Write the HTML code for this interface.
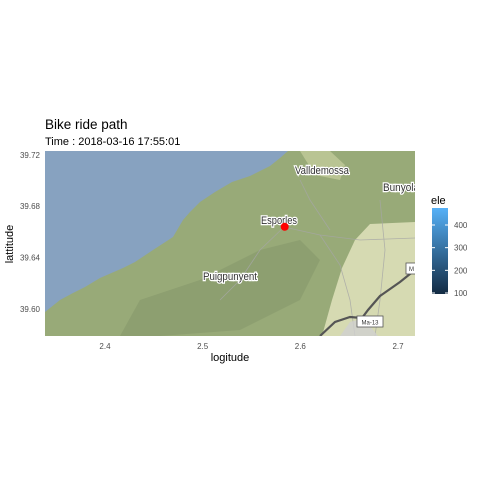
<!DOCTYPE html>
<html><head><meta charset="utf-8"><style>
body{margin:0;background:#fff;font-family:"Liberation Sans",sans-serif;}
svg text{font-family:"Liberation Sans",sans-serif;}
</style></head><body>
<svg width="480" height="480" viewBox="0 0 480 480">
<defs>
<linearGradient id="cb" x1="0" y1="1" x2="0" y2="0">
<stop offset="0" stop-color="#132b43"/><stop offset="1" stop-color="#56b1f7"/>
</linearGradient>
<clipPath id="pc"><rect x="45" y="151" width="370" height="185"/></clipPath>
</defs>
<text x="45" y="129" font-size="13.5" fill="#000">Bike ride path</text>
<text x="45" y="145" font-size="11" fill="#000">Time : 2018-03-16 17:55:01</text>
<g clip-path="url(#pc)">
<rect x="45" y="151" width="370" height="185" fill="#98aa78"/>
<path d="M415,222 L370,224 L355,240 L342,268 L332,300 L322,336 L415,336 Z" fill="#d6dab2"/>
<path d="M300,151 L330,151 L345,165 L340,180 L315,175 Z" fill="#c8cf9e" opacity="0.7"/>
<path d="M140,300 L200,280 L260,250 L300,240 L320,260 L300,300 L240,330 L160,336 L120,336 Z" fill="#86986a" opacity="0.6"/>
<path d="M45,151 L288,151 L280,158 L270,166 L250,176 L232,182 L215,192 L200,202 L190,212 L183,220 L173,237 L153,250 L135,262 L123,268 L100,278 L85,287 L73,293 L60,300 L50,308 L45,312 Z" fill="#87a2c0"/>
<g stroke="#a6a6a6" fill="none" stroke-width="0.8" opacity="0.8">
<path d="M284,227 L320,235 L360,240 L415,238"/>
<path d="M320,235 L340,265 L350,300 L355,336"/>
<path d="M284,227 L260,250 L240,280 L220,300"/>
<path d="M300,180 L310,200 L330,230"/>
<path d="M380,200 L385,250 L380,300 L375,336"/>
</g>
<path d="M320,336 L335,322 L350,317 L362,318 L368,310 L380,296 L400,282 L415,270" stroke="#555" stroke-width="2.2" fill="none"/>
<path d="M340,336 L350,322 L365,318 L370,326 L378,336 Z" fill="#cfcfcf" opacity="0.8"/>
<rect x="357" y="316" width="26" height="11" fill="#fff" stroke="#555" stroke-width="0.8"/>
<text x="370" y="324.5" font-size="6" text-anchor="middle" fill="#333">Ma-13</text>
<rect x="406" y="263" width="12" height="11" fill="#fff" stroke="#555" stroke-width="0.8"/>
<text x="409" y="271" font-size="6" fill="#333">M</text>
<g font-size="11" fill="#333" stroke="#fff" stroke-width="2.5" paint-order="stroke" text-anchor="middle" lengthAdjust="spacingAndGlyphs">
<text x="322" y="174" textLength="54" lengthAdjust="spacingAndGlyphs">Valldemossa</text>
<text x="401" y="191" textLength="36" lengthAdjust="spacingAndGlyphs">Bunyola</text>
<text x="279" y="224" textLength="36" lengthAdjust="spacingAndGlyphs">Esporles</text>
<text x="230" y="280" textLength="54" lengthAdjust="spacingAndGlyphs">Puigpunyent</text>
</g>
<g id="pts"></g>
</g>
<g id="axes" font-size="8" fill="#4d4d4d"></g>
<text x="230" y="361" font-size="11" text-anchor="middle" fill="#000">logitude</text>
<text x="13" y="244" font-size="11" text-anchor="middle" fill="#000" transform="rotate(-90 13 244)">lattitude</text>
<text x="431" y="204" font-size="11" fill="#000">ele</text>
<rect x="432" y="208" width="16" height="86" fill="url(#cb)"/>
<g id="leg" font-size="8" fill="#4d4d4d"></g>
</svg>
<script>
const xTicks=[2.4,2.5,2.6,2.7];
const yTicks=[39.60,39.64,39.68,39.72];
const legTicks=[100,200,300,400];
const ptLon=[2.584];
const ptLat=[39.664];
const ptEle=[120];
const X=v=>45+(v-2.3386)/(2.7174-2.3386)*370;
const Y=v=>336-(v-39.579)/(39.723-39.579)*185;
const L=v=>293-(v-100)/(400-100)*68;
const ns="http://www.w3.org/2000/svg";
const ax=document.getElementById('axes');
xTicks.forEach(t=>{const e=document.createElementNS(ns,'text');e.setAttribute('x',X(t));e.setAttribute('y',349);e.setAttribute('text-anchor','middle');e.textContent=t.toFixed(1);


ax.appendChild(e);});
yTicks.forEach(t=>{const e=document.createElementNS(ns,'text');e.setAttribute('x',40);e.setAttribute('y',Y(t)+3);e.setAttribute('text-anchor','end');e.textContent=t.toFixed(2);


ax.appendChild(e);});
const lg=document.getElementById('leg');
legTicks.forEach(t=>{const e=document.createElementNS(ns,'text');e.setAttribute('x',454);e.setAttribute('y',L(t)+3);e.textContent=t;


lg.appendChild(e);
[432,445].forEach(x0=>{const l=document.createElementNS(ns,'line');l.setAttribute('x1',x0);l.setAttribute('x2',x0+3);l.setAttribute('y1',L(t));l.setAttribute('y2',L(t));l.setAttribute('stroke','#fff');


lg.appendChild(l);});});
const pg=document.getElementById('pts');
ptLon.forEach((lon,i)=>{const c=document.createElementNS(ns,'circle');c.setAttribute('cx',X(lon));c.setAttribute('cy',Y(ptLat[i]));c.setAttribute('r',4);c.setAttribute('fill','#ff0000');


pg.appendChild(c);});
</script>
</body></html>
